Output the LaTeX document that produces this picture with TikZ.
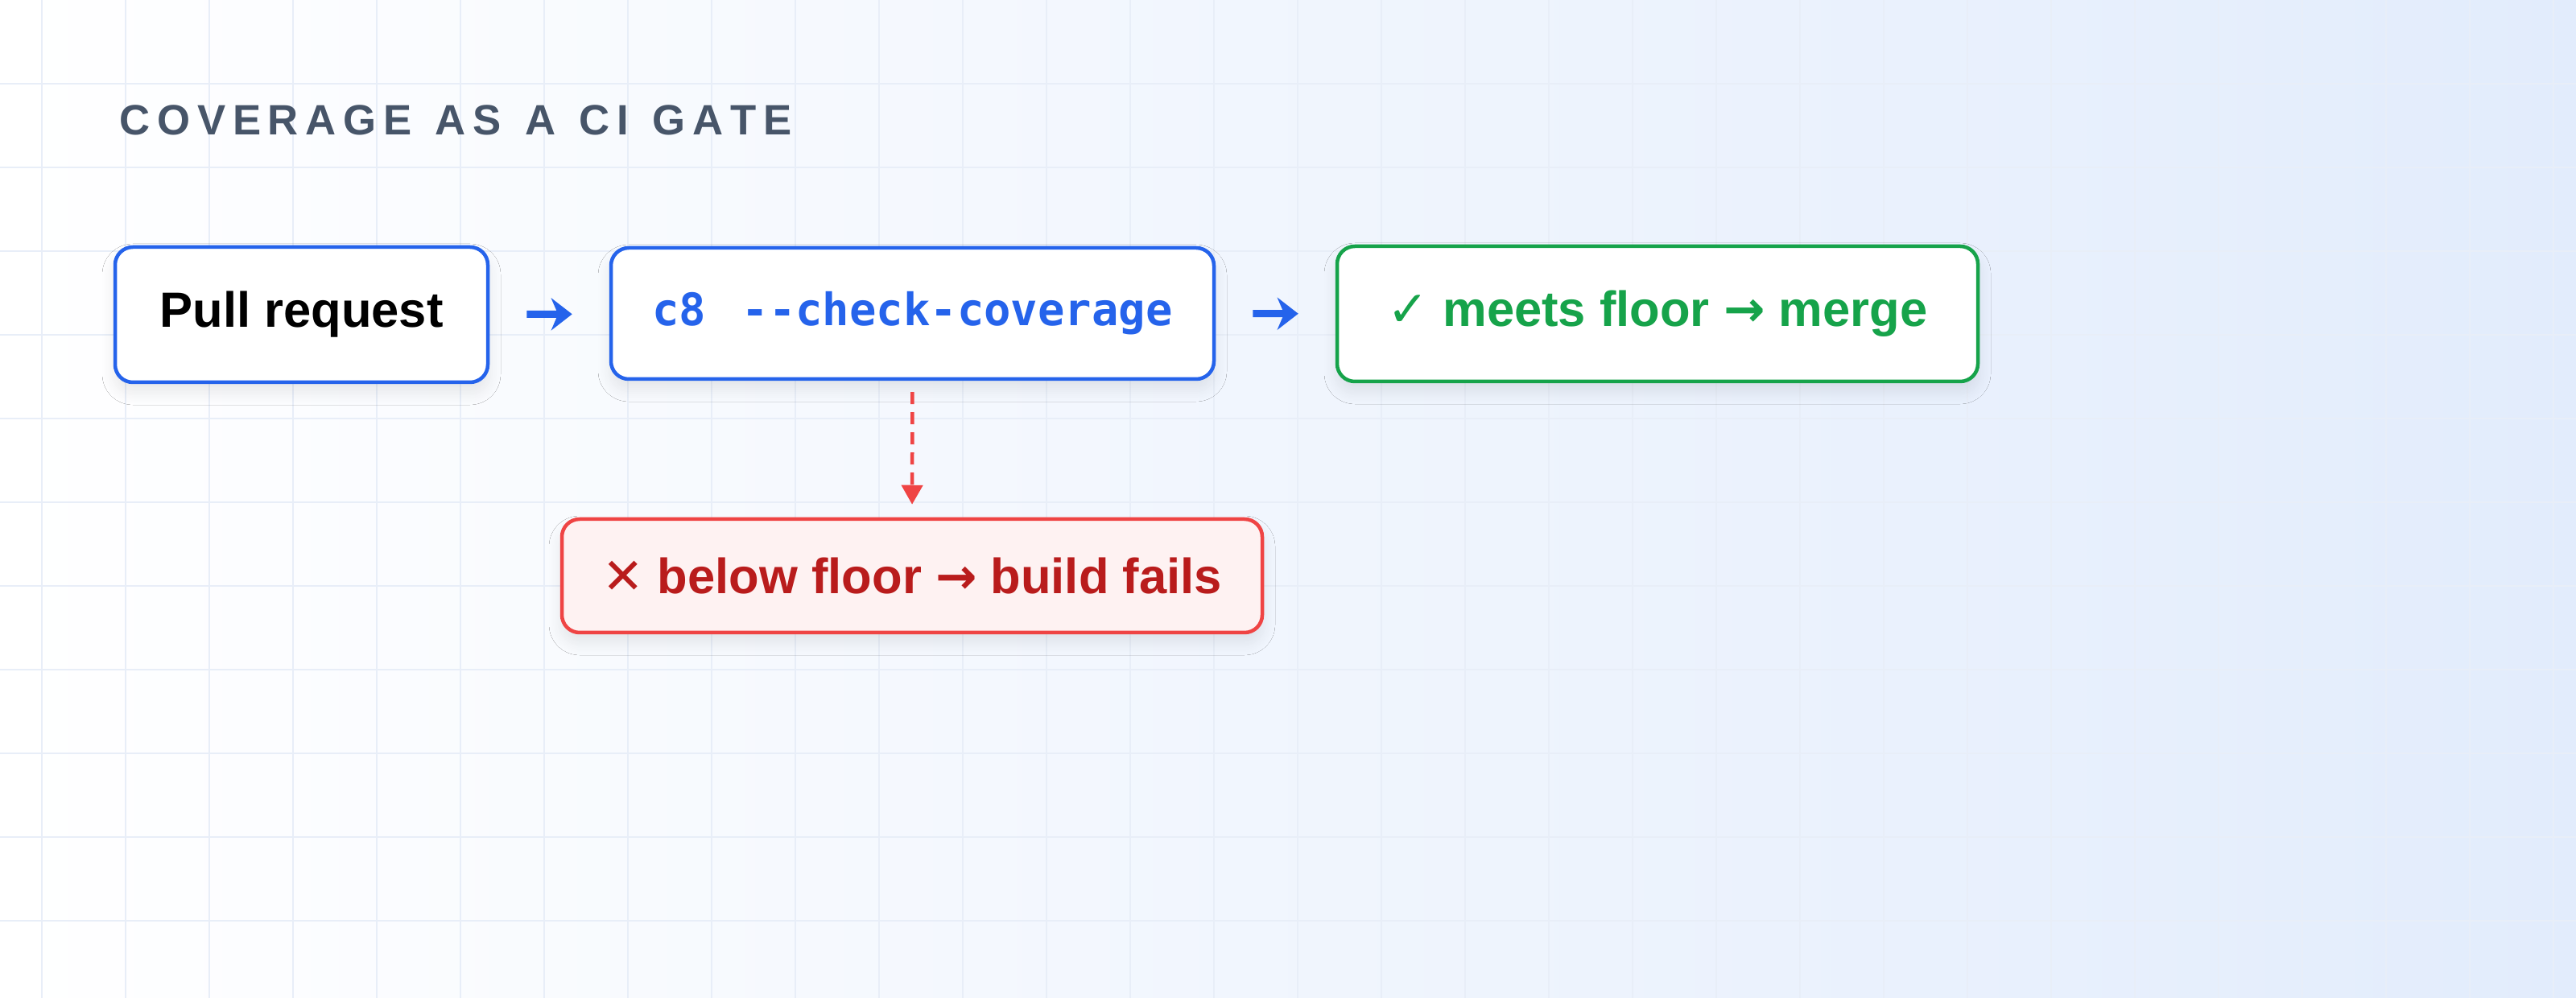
\documentclass[tikz,border=0pt]{standalone}
\usepackage{fontspec}
\setmainfont{Liberation Sans}
\setmonofont{DejaVu Sans Mono}
\newfontfamily\symfont{DejaVu Sans}[BoldFont={DejaVu Sans Bold}]
\usetikzlibrary{arrows.meta, positioning, shadows.blur}
\definecolor{gridline}{HTML}{E8EEF8}
\definecolor{bgright}{HTML}{E2ECFC}
\definecolor{bluebox}{HTML}{2563EB}
\definecolor{greenbox}{HTML}{16A34A}
\definecolor{redline}{HTML}{EF4444}
\definecolor{redtext}{HTML}{B91C1C}
\definecolor{redfill}{HTML}{FEF2F2}
\definecolor{titlegray}{HTML}{475569}
\tikzset{
  stage/.style={draw, line width=0.45mm, rounded corners=2.2mm, fill=white,
    minimum height=16.8mm, font=\bfseries\fontsize{17.5}{20}\selectfont,
    blur shadow={shadow xshift=0mm, shadow yshift=-1.2mm, shadow blur steps=10,
      shadow blur radius=1.6mm, shadow opacity=9}},
  flow/.style={-{Stealth[length=2.6mm, width=4mm]}, line width=0.9mm, bluebox, shorten >=4.6mm, shorten <=4.6mm}
}
\begin{document}
\begin{tikzpicture}[x=1mm, y=-1mm]
\useasboundingbox (0,0) rectangle (320,124);
\shade[left color=white, right color=bgright] (0,0) rectangle (320,124);
\foreach \i in {0,...,31} \draw[gridline, line width=0.15mm] (\i*10.4+5.2,0) -- (\i*10.4+5.2,124);
\foreach \j in {0,...,11} \draw[gridline, line width=0.15mm] (0,\j*10.4+10.4) -- (320,\j*10.4+10.4);

\node[anchor=base west, text=titlegray, font=\bfseries\fontsize{15}{18}\selectfont] (title) at (13.6,16.8)
  {C\,O\,V\,E\,R\,A\,G\,E\ \ A\,S\ \ A\ \ C\,I\ \ G\,A\,T\,E};

\node[stage, draw=bluebox, minimum width=46.3mm] (pr) at (37.45,39.1) {Pull request};
\node[stage, draw=bluebox, minimum width=74.9mm, minimum height=16.3mm, text=bluebox,
  font=\ttfamily\bfseries\fontsize{15.8}{18}\selectfont] (check) at (113.35,38.95) {c8\hspace{0.8em}-{}-check-coverage};
\node[stage, draw=greenbox, minimum width=79.6mm, text=greenbox] (pass) at (205.9,39)
  {{\symfont ✓} meets floor {\symfont →} merge};
\node[stage, draw=redline, fill=redfill, minimum width=87mm, minimum height=14.1mm, text=redtext] (fail) at (113.3,71.55)
  {{\symfont ✕} below floor {\symfont →} build fails};

\draw[flow] (pr) -- (check);
\draw[flow] (check) -- (pass);
\draw[redline, line width=0.45mm, dash pattern=on 1.5mm off 1mm, shorten <=1.4mm, shorten >=1.6mm,
  -{Triangle[length=2.4mm, width=2.6mm]}] (check.south) -- (fail.north);
\end{tikzpicture}
\end{document}
